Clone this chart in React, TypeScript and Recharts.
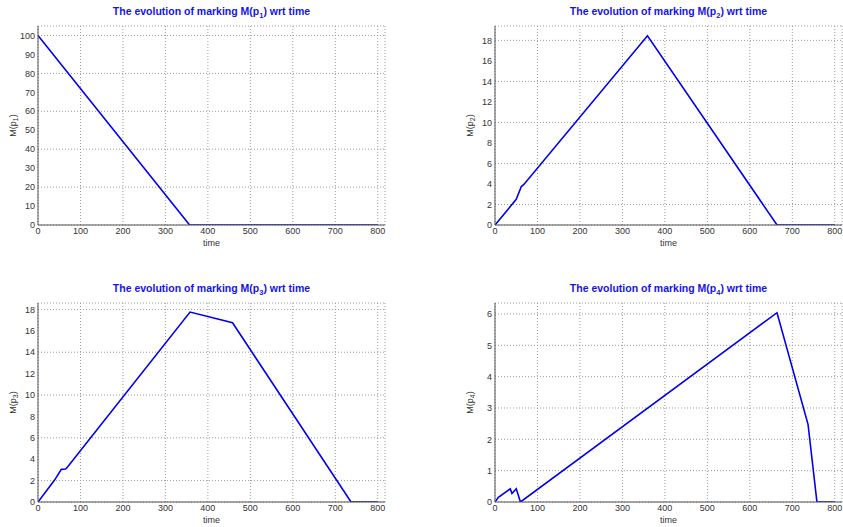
import React from "react";
import { LineChart, Line, XAxis, YAxis, CartesianGrid } from "recharts";

// x axis (time) shared by all four panels
const timeTicks = [0, 100, 200, 300, 400, 500, 600, 700, 800];
const timeMax = 817;

// M(p1)
const p1Time = [0, 357, 800];
const p1Marking = [100, 0, 0];
const p1Ticks = [0, 10, 20, 30, 40, 50, 60, 70, 80, 90, 100];

// M(p2)
const p2Time = [0, 50, 62, 68, 359, 664, 800];
const p2Marking = [0, 2.5, 3.75, 3.95, 18.45, 0, 0];
const p2Ticks = [0, 2, 4, 6, 8, 10, 12, 14, 16, 18];

// M(p3)
const p3Time = [0, 39, 55, 65, 70, 358, 458, 737, 800];
const p3Marking = [0, 2.05, 3.05, 3.08, 3.3, 17.75, 16.75, 0, 0];
const p3Ticks = [0, 2, 4, 6, 8, 10, 12, 14, 16, 18];

// M(p4)
const p4Time = [0, 8, 36, 40, 50, 60, 664, 737, 758, 800];
const p4Marking = [0, 0.15, 0.42, 0.27, 0.42, 0, 6.04, 2.48, 0, 0];
const p4Ticks = [0, 1, 2, 3, 4, 5, 6];

const FONT = "'Liberation Sans', Arial, sans-serif";
const BLUE = "#0000f0";
const FRAME = "#555";
const PLOT_TOP = 26;
const PLOT_W = 347;

const toRows = (ts: number[], ys: number[]) =>
  ts.map((t, i) => ({ t, m: ys[i] }));

function Panel({
  left,
  top,
  yAxisWidth,
  place,
  time,
  marking,
  yTicks,
  yMax,
}: {
  left: number;
  top: number;
  yAxisWidth: number;
  place: string;
  time: number[];
  marking: number[];
  yTicks: number[];
  yMax: number;
}) {
  const rightPad = yAxisWidth > 50 ? 1 : 35;
  const width = yAxisWidth + PLOT_W + rightPad;
  const height = 262;
  const data = toRows(time, marking);

  // y label plus the panel title (title centred over the plot)
  const YLabel = (props: any) => {
    const vb = props.viewBox;
    const x = vb.x + vb.width - 25;
    const y = vb.y + vb.height / 2;
    const cx = vb.x + vb.width + PLOT_W / 2;
    return (
      <g>
        <text
          x={cx}
          y={vb.y - 11}
          textAnchor="middle"
          fill="#1414e6"
          fontSize={10.5}
          fontWeight="bold"
          fontFamily={FONT}
        >
          The evolution of marking M(p
          <tspan dy={3} fontSize={7.5}>
            {place}
          </tspan>
          <tspan dy={-3}>) wrt time</tspan>
        </text>
        <text
          x={x}
          y={y}
          transform={`rotate(-90 ${x} ${y})`}
          textAnchor="middle"
          dominantBaseline="central"
          fill="#333"
          fontSize={9}
          fontFamily={FONT}
        >
          M(p
          <tspan dy={2} fontSize={7}>
            {place}
          </tspan>
          <tspan dy={-2}>)</tspan>
        </text>
      </g>
    );
  };

  const XLabel = (props: any) => {
    const vb = props.viewBox;
    return (
      <text
        x={vb.x + vb.width / 2}
        y={vb.y + 18}
        textAnchor="middle"
        dominantBaseline="central"
        fill="#333"
        fontSize={9}
        fontFamily={FONT}
      >
        time
      </text>
    );
  };

  const tickStyle = { fontSize: 9, fill: "#333", fontFamily: FONT };

  return (
    <div style={{ position: "absolute", left, top }}>
      <LineChart
        width={width}
        height={height}
        data={data}
        margin={{ top: PLOT_TOP, right: rightPad, bottom: 0, left: 0 }}
      >
        <CartesianGrid stroke="#9a9a9a" strokeDasharray="1 2" />
        <XAxis
          xAxisId="top"
          orientation="top"
          type="number"
          dataKey="t"
          domain={[0, timeMax]}
          ticks={timeTicks}
          height={0}
          mirror
          tickSize={3}
          tick={() => <g />}
          tickLine={{ stroke: FRAME }}
          axisLine={{ stroke: FRAME }}
        />
        <XAxis
          type="number"
          dataKey="t"
          domain={[0, timeMax]}
          ticks={timeTicks}
          allowDataOverflow
          height={37}
          tickLine={false}
          tickSize={0}
          tickMargin={3}
          tick={tickStyle}
          axisLine={{ stroke: FRAME }}
          label={{ content: XLabel }}
        />
        <YAxis
          type="number"
          domain={[0, yMax]}
          ticks={yTicks}
          allowDataOverflow
          width={yAxisWidth}
          tickLine={false}
          tickSize={0}
          tickMargin={3}
          tick={tickStyle}
          axisLine={{ stroke: FRAME }}
          label={{ content: YLabel }}
        />
        <YAxis
          yAxisId="right"
          orientation="right"
          type="number"
          domain={[0, yMax]}
          ticks={yTicks}
          width={0}
          mirror
          tickSize={3}
          tick={() => <g />}
          tickLine={{ stroke: FRAME }}
          axisLine={{ stroke: FRAME }}
        />
        <Line
          type="linear"
          dataKey="m"
          stroke={BLUE}
          strokeWidth={1.6}
          dot={false}
          isAnimationActive={false}
        />
      </LineChart>
    </div>
  );
}

export default function App() {
  return (
    <div
      style={{
        position: "absolute",
        left: 0,
        top: 0,
        width: 843,
        height: 527,
        background: "#fff",
      }}
    >
      <Panel
        left={0}
        top={0}
        yAxisWidth={38}
        place="1"
        time={p1Time}
        marking={p1Marking}
        yTicks={p1Ticks}
        yMax={105}
      />
      <Panel
        left={420}
        top={0}
        yAxisWidth={75}
        place="2"
        time={p2Time}
        marking={p2Marking}
        yTicks={p2Ticks}
        yMax={19.4}
      />
      <Panel
        left={0}
        top={277}
        yAxisWidth={38}
        place="3"
        time={p3Time}
        marking={p3Marking}
        yTicks={p3Ticks}
        yMax={18.6}
      />
      <Panel
        left={420}
        top={277}
        yAxisWidth={75}
        place="4"
        time={p4Time}
        marking={p4Marking}
        yTicks={p4Ticks}
        yMax={6.35}
      />
    </div>
  );
}
